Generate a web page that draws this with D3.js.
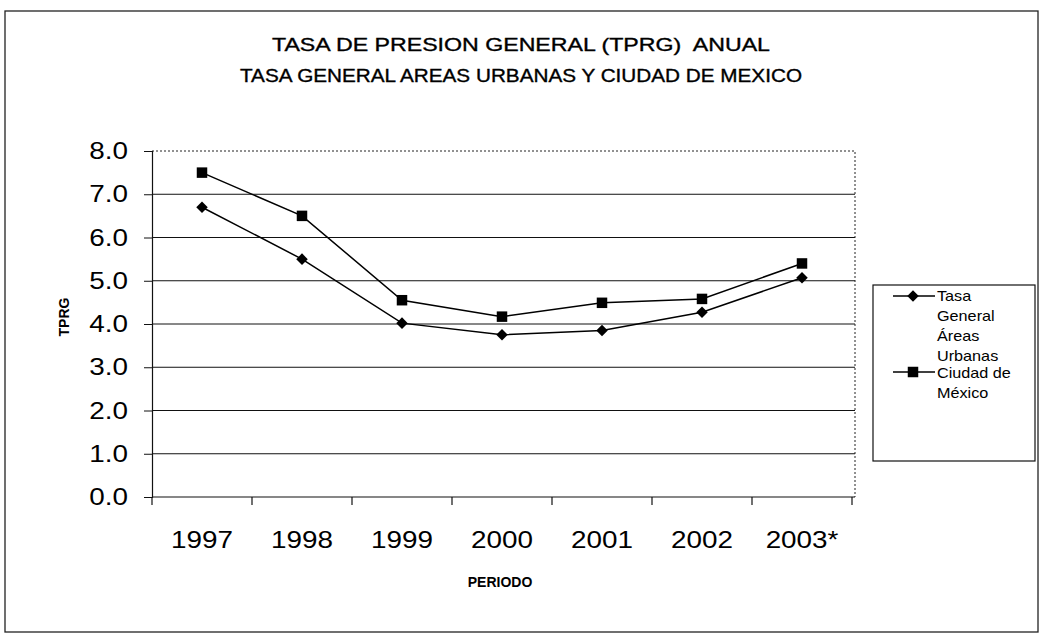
<!DOCTYPE html>
<html>
<head>
<meta charset="utf-8">
<script src="https://cdn.jsdelivr.net/npm/d3@7"></script>
<style>
  body { margin: 0; background: #fff; }
  text { font-family: "Liberation Sans", Arial, sans-serif; fill: #000; }
</style>
</head>
<body>
<div id="chart"></div>
<script>
// datos
const periodos = ["1997", "1998", "1999", "2000", "2001", "2002", "2003*"];
const tasaUrbanas = [6.7, 5.5, 4.02, 3.75, 3.85, 4.27, 5.07];
const ciudadMexico = [7.5, 6.5, 4.55, 4.17, 4.49, 4.58, 5.4];
const yTicks = [0, 1, 2, 3, 4, 5, 6, 7, 8];
const titulo = ["TASA DE PRESION GENERAL (TPRG)\u00a0 ANUAL", "TASA GENERAL AREAS URBANAS Y CIUDAD DE MEXICO"];
const leyenda1 = ["Tasa", "General", "\u00c1reas", "Urbanas"];
const leyenda2 = ["Ciudad de", "M\u00e9xico"];

const W = 1043, H = 638;
const mLeft = 152, mRight = 852, mTop = 151, mBottom = 497;

const svg = d3.select("#chart").append("svg")
    .attr("width", W)
    .attr("height", H);

// ensancha el texto como en la imagen escaneada
function stretch(sel, f) {
    sel.each(function () {
        const len = this.getComputedTextLength();
        d3.select(this).attr("textLength", len * f).attr("lengthAdjust", "spacingAndGlyphs");
    });
}

// marco exterior
svg.append("rect")
    .attr("x", 5).attr("y", 11)
    .attr("width", 1033).attr("height", 621)
    .attr("fill", "none")
    .attr("stroke", "#222")
    .attr("stroke-width", 1.3);

// titulo
svg.selectAll(".titulo")
    .data(titulo)
    .enter()
    .append("text")
    .attr("class", "titulo")
    .attr("x", 521)
    .attr("y", (d, i) => 51 + i * 31)
    .attr("text-anchor", "middle")
    .style("font-size", "18px")
    .attr("stroke", "#000")
    .attr("stroke-width", 0.35)
    .attr("textLength", (d, i) => i === 0 ? 498 : 562)
    .attr("lengthAdjust", "spacingAndGlyphs")
    .text(d => d);

const x = d3.scaleBand()
    .domain(periodos)
    .range([mLeft, mRight])
    .padding(0);

const y = d3.scaleLinear()
    .domain([0, 8])
    .range([mBottom, mTop]);

// lineas de division
svg.append("g")
    .selectAll("line")
    .data(yTicks.filter(d => d > 0 && d < 8))
    .enter()
    .append("line")
    .attr("x1", mLeft).attr("x2", mRight + 3)
    .attr("y1", d => y(d)).attr("y2", d => y(d))
    .attr("stroke", "#111")
    .attr("stroke-width", 1);

// borde superior y derecho punteado
svg.append("path")
    .attr("d", `M${mLeft},${y(8)}H${mRight + 3}V${mBottom}`)
    .attr("fill", "none")
    .attr("stroke", "#222")
    .attr("stroke-dasharray", "2,2");

// eje Y
const yAxis = svg.append("g")
    .attr("transform", `translate(${mLeft},0)`)
    .call(d3.axisLeft(y).tickValues(yTicks).tickFormat(d3.format(".1f")).tickSize(8).tickPadding(16));
yAxis.select(".domain").attr("stroke", "#111").attr("stroke-width", 1.2);
yAxis.selectAll(".tick line").attr("stroke", "#111");
yAxis.selectAll("text")
    .style("font-size", "24px")
    .style("font-family", "Liberation Sans, Arial, sans-serif")
    .attr("fill", "#000")
    .call(stretch, 1.16);

// eje X
const xAxis = svg.append("g")
    .attr("transform", `translate(0,${mBottom})`)
    .call(d3.axisBottom(x).tickSize(0).tickPadding(34));
xAxis.select(".domain").remove();
xAxis.selectAll("text")
    .style("font-size", "24px")
    .style("font-family", "Liberation Sans, Arial, sans-serif")
    .attr("fill", "#000")
    .call(stretch, 1.16);

svg.append("line")
    .attr("x1", mLeft).attr("x2", mRight + 3)
    .attr("y1", mBottom).attr("y2", mBottom)
    .attr("stroke", "#111")
    .attr("stroke-width", 1.2);

svg.append("g")
    .selectAll("line")
    .data(periodos.concat(["fin"]))
    .enter()
    .append("line")
    .attr("x1", (d, i) => mLeft + i * x.step())
    .attr("x2", (d, i) => mLeft + i * x.step())
    .attr("y1", mBottom).attr("y2", mBottom + 8)
    .attr("stroke", "#111")
    .attr("stroke-width", 1.2);

// titulos de ejes
svg.append("text")
    .attr("transform", "translate(69,317) rotate(-90)")
    .attr("text-anchor", "middle")
    .style("font-size", "14px")
    .style("font-weight", "bold")
    .text("TPRG");

svg.append("text")
    .attr("x", 500)
    .attr("y", 587)
    .attr("text-anchor", "middle")
    .style("font-size", "14px")
    .style("font-weight", "bold")
    .text("PERIODO");

// series
const line = d3.line()
    .x((d, i) => x(periodos[i]) + x.bandwidth() / 2)
    .y(d => y(d));

const diamond = d3.symbol().type(d3.symbolDiamond2).size(85);
const square = d3.symbol().type(d3.symbolSquare).size(110);

function drawSerie(values, shape) {
    svg.append("path")
        .datum(values)
        .attr("d", line)
        .attr("fill", "none")
        .attr("stroke", "#000")
        .attr("stroke-width", 1.5);
    svg.append("g")
        .selectAll("path")
        .data(values)
        .enter()
        .append("path")
        .attr("d", shape)
        .attr("transform", (d, i) => `translate(${x(periodos[i]) + x.bandwidth() / 2},${y(d)})`)
        .attr("fill", "#000");
}
drawSerie(tasaUrbanas, diamond);
drawSerie(ciudadMexico, square);

// leyenda
const leg = svg.append("g");
leg.append("rect")
    .attr("x", 873).attr("y", 285)
    .attr("width", 162).attr("height", 176)
    .attr("fill", "#fff")
    .attr("stroke", "#111")
    .attr("stroke-width", 1.2);

[[leyenda1, diamond, 296, 301], [leyenda2, square, 372, 378]].forEach(([lines, shape, ly, ty]) => {
    leg.append("line")
        .attr("x1", 893).attr("x2", 935)
        .attr("y1", ly).attr("y2", ly)
        .attr("stroke", "#000")
        .attr("stroke-width", 1.5);
    leg.append("path")
        .attr("d", shape)
        .attr("transform", `translate(913,${ly})`)
        .attr("fill", "#000");
    leg.selectAll(null)
        .data(lines)
        .enter()
        .append("text")
        .attr("x", 937)
        .attr("y", (d, i) => ty + i * 20)
        .style("font-size", "15px")
        .text(d => d)
        .call(stretch, 1.08);
});
</script>
</body>
</html>
